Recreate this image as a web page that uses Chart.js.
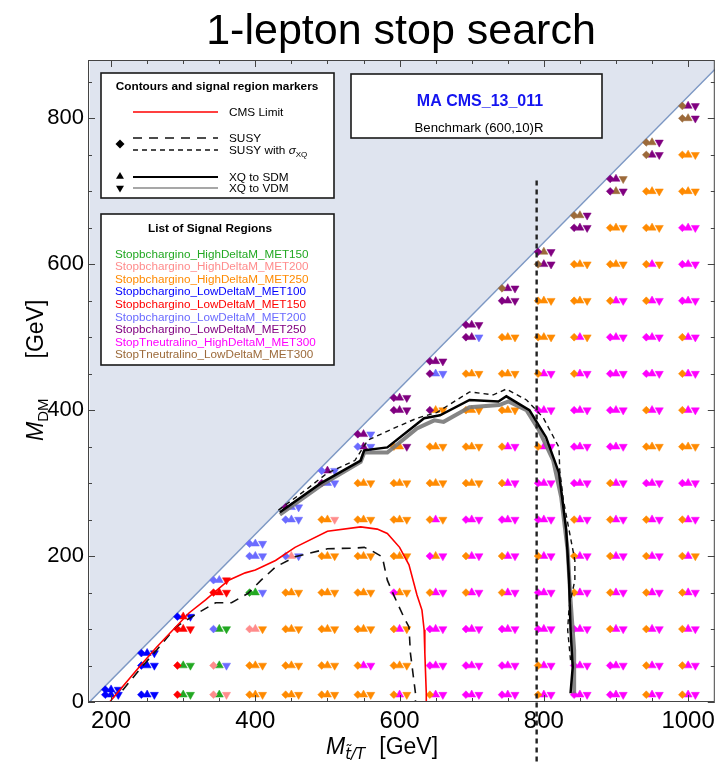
<!DOCTYPE html>
<html>
<head>
<meta charset="utf-8">
<script src="https://cdn.jsdelivr.net/npm/chart.js@4.4.1/dist/chart.umd.min.js"></script>
<style>
  html, body { margin: 0; padding: 0; background: #fff; overflow: hidden; }
  #wrap { width: 720px; height: 764px; position: relative; }
</style>
</head>
<body>
<div id="wrap"><canvas id="c" width="720" height="764"></canvas></div>
<script>
// ---- grid of simulated mass points (GeV) ----
const massGrid = [200, 250, 300, 350, 400, 450, 500, 550, 600, 650, 700, 750, 800, 850, 900, 950, 1000];
const dmGrid = [10, 50, 100, 150, 200, 250, 300, 350, 400, 450, 500, 550, 600, 650, 700, 750, 800];
// extra point just below the kinematic edge, one per mass column
const edgeDM = [17, 67, 117, 167, 217, 267, 317, 367, 417, 467, 517, 567, 617, 667, 717, 767, 817];

// best signal region per point: three letters = SUSY, XQ->SDM, XQ->VDM.
// codes run up the dmGrid rows, the last code belongs to the edge point.
const bestRegionCodes = [
  'BBB BBB',
  'BBB BBB BBB',
  'RGG RGG RRR BRB',
  'PGP PGL LGG RRR LLR',
  'OOO OOO PPO GGL LLL LLL',
  'OOO OOO OOO OOO LPL LLL VLL',
  'OOO OOO OOO OOO OOO OOP VLL LVL',
  'OOO OMM OOO OOO OOO OOO OOO LVL VVL',
  'OMO OOO OMO MOO OOO OOO OOO OOV VVV VVV',
  'OMM MMM MMM OMM MOM OMO OOO OOO VOO VLL VVV',
  'MMM MMM MMM OMM OMM MMM OOO OOO OOO OOO VVL VVV',
  'MMM MMM MMM OMM OMM MMM OMM OMM OOO OOO OOO VVV NVV',
  'OMM OMM MMM MMM OMM MMM MMM OMM MMM OMM OOO OOO NVV VNV',
  'MMM MMM MMM OMM OMM OMM MMM MMM MMM OMM OMO OOO OOO VVV NNV',
  'MMM MMM OMM OMM OMM OMM OMM MMM MMM MMM MMM OMM OOO OOO VNV VVN',
  'OMM OMM OMM OMM OMM OMM MMM OOO OMM MMM MMM OMM OMO OOO OOO NVV NNV',
  'OMM OMM OMM OMM OMO OMM MMM OOO OMM OMM OMM MMM MMM MMM OOO OOO NNV NVV'
];

const regionKeys = ['G', 'P', 'O', 'B', 'R', 'L', 'V', 'M', 'N'];
const regionNames = [
  'Stopbchargino_HighDeltaM_MET150',
  'Stopbchargino_HighDeltaM_MET200',
  'Stopbchargino_HighDeltaM_MET250',
  'Stopbchargino_LowDeltaM_MET100',
  'Stopbchargino_LowDeltaM_MET150',
  'Stopbchargino_LowDeltaM_MET200',
  'Stopbchargino_LowDeltaM_MET250',
  'StopTneutralino_HighDeltaM_MET300',
  'StopTneutralino_LowDeltaM_MET300'
];
const regionColors = ['#22a822', '#ff8c8c', '#ff8a00', '#0000ff', '#ff0000', '#6b6bff', '#800080', '#ff00ff', '#9c6a3a'];

// ---- exclusion contours (M_stop/T, M_DM) ----
const cmsLimitM  = [198, 239, 263, 308, 331, 363, 386, 400, 428, 455, 500, 546, 569, 583, 600, 613, 624, 631, 634, 635, 637, 637];
const cmsLimitDM = [0, 48, 75, 122, 140, 167, 177, 181, 194, 212, 234, 240, 237, 231, 212, 188, 147, 126, 99, 67, 12, 0];

const susyM  = [216, 239, 263, 290, 322, 345, 367, 390, 408, 428, 455, 500, 538, 551, 562, 576, 583, 593, 606, 613, 615, 622, 622];
const susyDM = [16, 44, 71, 103, 123, 136, 136, 149, 167, 185, 199, 210, 211, 212, 207, 199, 167, 144, 116, 103, 67, 12, 0];

const susyXqM  = [432, 469, 500, 538, 556, 587, 624, 652, 697, 730, 748, 776, 799, 821, 822, 827, 843, 843, 835, 833, 837];
const susyXqDM = [263, 290, 314, 331, 359, 373, 389, 397, 425, 421, 429, 414, 390, 349, 318, 277, 194, 167, 130, 99, 57];

const xqSdmM  = [434, 491, 546, 551, 583, 634, 656, 697, 737, 748, 780, 803, 821, 831, 835, 837, 840, 837];
const xqSdmDM = [260, 300, 331, 345, 349, 389, 393, 414, 412, 419, 400, 363, 314, 236, 167, 99, 48, 12];

const xqVdmM  = [434, 491, 546, 551, 583, 624, 648, 661, 697, 738, 751, 776, 793, 813, 824, 833, 837, 842, 842];
const xqVdmDM = [257, 297, 329, 342, 342, 375, 386, 384, 404, 407, 412, 400, 373, 331, 281, 208, 140, 71, 12];

// kinematic edge M_DM = M - EDGE_OFFSET, and the vertical reference mass
const EDGE_OFFSET = 170;
const edgeLineM = [170, 1060];
const referenceMass = 790;

const xTickValues = [200, 400, 600, 800, 1000];
const yTickValues = [0, 200, 400, 600, 800];

// ---- build marker datasets ----
const FONT = '"Liberation Sans", Arial, Helvetica, sans-serif';
const markerShift = { susy: -8, sdm: 0, vdm: 10 };   // GeV, keeps the three glyphs side by side
const markers = { susy: [], sdm: [], vdm: [] };
const markerColors = { susy: [], sdm: [], vdm: [] };
massGrid.forEach((m, i) => {
  const codes = bestRegionCodes[i].split(' ');
  codes.forEach((code, j) => {
    const dm = (j === codes.length - 1) ? edgeDM[i] : dmGrid[j];
    ['susy', 'sdm', 'vdm'].forEach((k, n) => {
      markers[k].push({ x: m + markerShift[k], y: dm });
      markerColors[k].push(regionColors[regionKeys.indexOf(code[n])]);
    });
  });
});

const zip = (xs, ys) => xs.map((x, i) => ({ x, y: ys[i] }));

const datasets = [
  { // forbidden region above the kinematic edge
    type: 'line', data: edgeLineM.map(m => ({ x: m, y: m - EDGE_OFFSET })),
    borderColor: '#7d98c4', borderWidth: 1.5, backgroundColor: '#dfe4ef',
    fill: 'end', pointRadius: 0, order: 30
  },
  { type: 'scatter', data: markers.susy, pointStyle: 'rectRot', pointRadius: 3.9,
    pointBackgroundColor: markerColors.susy, pointBorderColor: markerColors.susy, pointBorderWidth: 0.5, order: 10 },
  { type: 'scatter', data: markers.sdm, pointStyle: 'triangle', pointRadius: 4.7,
    pointBackgroundColor: markerColors.sdm, pointBorderColor: markerColors.sdm, pointBorderWidth: 0.5, order: 10 },
  { type: 'scatter', data: markers.vdm, pointStyle: 'triangle', pointRotation: 180, pointRadius: 4.7,
    pointBackgroundColor: markerColors.vdm, pointBorderColor: markerColors.vdm, pointBorderWidth: 0.5, order: 10 },
  { type: 'line', data: zip(xqVdmM, xqVdmDM), borderColor: 'rgba(120,120,120,0.9)', borderWidth: 4,
    pointRadius: 0, fill: false, order: 5 },
  { type: 'line', data: zip(xqSdmM, xqSdmDM), borderColor: '#000', borderWidth: 2.5,
    pointRadius: 0, fill: false, order: 4 },
  { type: 'line', data: zip(susyM, susyDM), borderColor: '#111', borderWidth: 1.6, borderDash: [9, 7],
    pointRadius: 0, fill: false, order: 3 },
  { type: 'line', data: zip(susyXqM, susyXqDM), borderColor: '#111', borderWidth: 1.4, borderDash: [5, 4],
    pointRadius: 0, fill: false, order: 3 },
  { type: 'line', data: zip(cmsLimitM, cmsLimitDM), borderColor: '#ff0000', borderWidth: 1.6,
    pointRadius: 0, fill: false, order: 2 },
  { type: 'line', data: [{ x: referenceMass, y: 715 }, { x: referenceMass, y: -90 }],
    borderColor: '#222', borderWidth: 2.4, borderDash: [5, 4], pointRadius: 0, fill: false,
    clip: false, order: 1 }
];

// ---- helpers for canvas text with subscripts ----
function drawRich(ctx, parts, x, y) {
  let cx = x;
  ctx.save();
  parts.forEach(p => {
    ctx.font = p.font;
    ctx.fillText(p.text, cx, y + (p.dy || 0));
    cx += ctx.measureText(p.text).width + (p.gap || 0);
  });
  ctx.restore();
}

function drawDiamond(ctx, x, y, r) {
  ctx.beginPath(); ctx.moveTo(x, y - r); ctx.lineTo(x + r, y); ctx.lineTo(x, y + r); ctx.lineTo(x - r, y); ctx.closePath(); ctx.fill();
}
function drawTri(ctx, x, y, r, down) {
  const s = down ? -1 : 1;
  ctx.beginPath();
  ctx.moveTo(x, y - s * r);
  ctx.lineTo(x + r * 0.866, y + s * r * 0.5);
  ctx.lineTo(x - r * 0.866, y + s * r * 0.5);
  ctx.closePath(); ctx.fill();
}

function box(ctx, x0, y0, x1, y1) {
  ctx.save();
  ctx.fillStyle = '#fff';
  ctx.fillRect(x0, y0, x1 - x0, y1 - y0);
  ctx.strokeStyle = '#1a1a1a'; ctx.lineWidth = 1.6;
  ctx.strokeRect(x0, y0, x1 - x0, y1 - y0);
  ctx.restore();
}

// frame with inward ticks on all four sides
const framePlugin = {
  id: 'frame',
  afterDatasetsDraw(chart) {
    const { ctx, chartArea: a, scales: { x, y } } = chart;
    ctx.save();
    ctx.strokeStyle = '#444'; ctx.lineWidth = 1;
    ctx.strokeRect(a.left + 0.5, a.top + 0.5, a.right - a.left - 1, a.bottom - a.top - 1);
    ctx.beginPath();
    for (let v = 200; v <= x.max; v += 50) {
      const px = Math.round(x.getPixelForValue(v)) + 0.5;
      const len = (v % 200 === 0) ? 7 : 4;
      ctx.moveTo(px, a.bottom); ctx.lineTo(px, a.bottom - len);
      ctx.moveTo(px, a.top); ctx.lineTo(px, a.top + len);
    }
    for (let v = 0; v <= y.max; v += 50) {
      const py = Math.round(y.getPixelForValue(v)) + 0.5;
      const len = (v % 200 === 0) ? 7 : 4;
      ctx.moveTo(a.left, py); ctx.lineTo(a.left + len, py);
      ctx.moveTo(a.right, py); ctx.lineTo(a.right - len, py);
    }
    ctx.stroke();
    ctx.restore();
  }
};

// title, axis titles and the three legend boxes
const annotationPlugin = {
  id: 'annotations',
  afterDraw(chart) {
    const ctx = chart.ctx;
    ctx.save();
    ctx.fillStyle = '#000';
    ctx.textBaseline = 'alphabetic';

    // main title
    ctx.textAlign = 'center';
    ctx.font = '43px ' + FONT;
    ctx.fillText('1-lepton stop search', 401, 44);

    // x-axis title
    ctx.textAlign = 'left';
    drawRich(ctx, [
      { text: 'M', font: 'italic 23px ' + FONT },
      { text: 't\u0303/T', font: 'italic 15px "DejaVu Sans", ' + FONT, dy: 5, gap: 14 },
      { text: '[GeV]', font: '23px ' + FONT }
    ], 326, 754);

    // y-axis title
    ctx.save();
    ctx.translate(43, 441);
    ctx.rotate(-Math.PI / 2);
    drawRich(ctx, [
      { text: 'M', font: 'italic 23px ' + FONT },
      { text: 'DM', font: '15px ' + FONT, dy: 5, gap: 40 },
      { text: '[GeV]', font: '23px ' + FONT }
    ], 0, 0);
    ctx.restore();

    // legend box: contours and markers
    box(ctx, 101, 73, 334, 198);
    ctx.textAlign = 'center';
    ctx.font = 'bold 11.8px ' + FONT;
    ctx.fillText('Contours and signal region markers', 217, 90);
    const lx0 = 133, lx1 = 218, tx = 229;
    ctx.lineWidth = 1.6;
    ctx.strokeStyle = '#ff0000';
    ctx.beginPath(); ctx.moveTo(lx0, 112); ctx.lineTo(lx1, 112); ctx.stroke();
    ctx.strokeStyle = '#111';
    ctx.setLineDash([9, 7]);
    ctx.beginPath(); ctx.moveTo(lx0, 138); ctx.lineTo(lx1, 138); ctx.stroke();
    ctx.setLineDash([5, 4]); ctx.lineWidth = 1.4;
    ctx.beginPath(); ctx.moveTo(lx0, 150); ctx.lineTo(lx1, 150); ctx.stroke();
    ctx.setLineDash([]);
    ctx.lineWidth = 2;
    ctx.strokeStyle = '#000';
    ctx.beginPath(); ctx.moveTo(lx0, 177); ctx.lineTo(lx1, 177); ctx.stroke();
    ctx.lineWidth = 1.6; ctx.strokeStyle = '#8a8a8a';
    ctx.beginPath(); ctx.moveTo(lx0, 188); ctx.lineTo(lx1, 188); ctx.stroke();
    ctx.fillStyle = '#000';
    drawDiamond(ctx, 120, 144, 4.5);
    drawTri(ctx, 120, 176.5, 4.6, false);
    drawTri(ctx, 120, 188, 4.6, true);
    ctx.textAlign = 'left';
    ctx.font = '11.8px ' + FONT;
    ctx.fillText('CMS Limit', tx, 116);
    ctx.fillText('SUSY', tx, 142);
    drawRich(ctx, [
      { text: 'SUSY with ', font: '11.8px ' + FONT },
      { text: '\u03c3', font: 'italic 11.8px ' + FONT },
      { text: 'XQ', font: '8px ' + FONT, dy: 3 }
    ], tx, 154);
    ctx.font = '11.8px ' + FONT;
    ctx.fillText('XQ to SDM', tx, 181);
    ctx.fillText('XQ to VDM', tx, 192);

    // legend box: signal regions
    box(ctx, 101, 214, 334, 365);
    ctx.textAlign = 'center';
    ctx.font = 'bold 11.8px ' + FONT;
    ctx.fillText('List of Signal Regions', 210, 232);
    ctx.textAlign = 'left';
    ctx.font = '11.7px ' + FONT;
    regionNames.forEach((name, i) => {
      ctx.fillStyle = regionColors[i];
      ctx.fillText(name, 115, 257.5 + i * 12.6);
    });

    // analysis / benchmark box
    box(ctx, 351, 74, 602, 138);
    ctx.textAlign = 'center';
    ctx.fillStyle = '#1414f0';
    ctx.font = 'bold 16px ' + FONT;
    ctx.fillText('MA CMS_13_011', 480, 106);
    ctx.fillStyle = '#000';
    ctx.font = '13.2px ' + FONT;
    ctx.fillText('Benchmark (600,10)R', 479, 132);

    ctx.restore();
  }
};

new Chart(document.getElementById('c'), {
  type: 'scatter',
  data: { datasets },
  options: {
    responsive: false,
    animation: false,
    devicePixelRatio: 1,
    events: [],
    layout: { padding: { top: 60, right: 0, left: 0, bottom: 0 } },
    plugins: { legend: { display: false }, tooltip: { enabled: false }, title: { display: false } },
    scales: {
      x: {
        type: 'linear', min: 168, max: 1037,
        afterBuildTicks: s => { s.ticks = xTickValues.map(v => ({ value: v })); },
        afterFit: s => { s.height = 62; s.paddingLeft = 0; s.paddingRight = 0; },
        grid: { display: false, drawTicks: false },
        border: { display: false },
        ticks: { font: { family: FONT, size: 24 }, color: '#000', padding: 5, maxRotation: 0, autoSkip: false,
                 callback: v => String(v) }
      },
      y: {
        type: 'linear', min: 0, max: 880,
        afterBuildTicks: s => { s.ticks = yTickValues.map(v => ({ value: v })); },
        afterFit: s => { s.width = 88; s.paddingTop = 0; s.paddingBottom = 0; },
        grid: { display: false, drawTicks: false },
        border: { display: false },
        ticks: { font: { family: FONT, size: 22 }, color: '#000', padding: 4, autoSkip: false,
                 callback: v => String(v) }
      }
    }
  },
  plugins: [framePlugin, annotationPlugin]
});
</script>
</body>
</html>
